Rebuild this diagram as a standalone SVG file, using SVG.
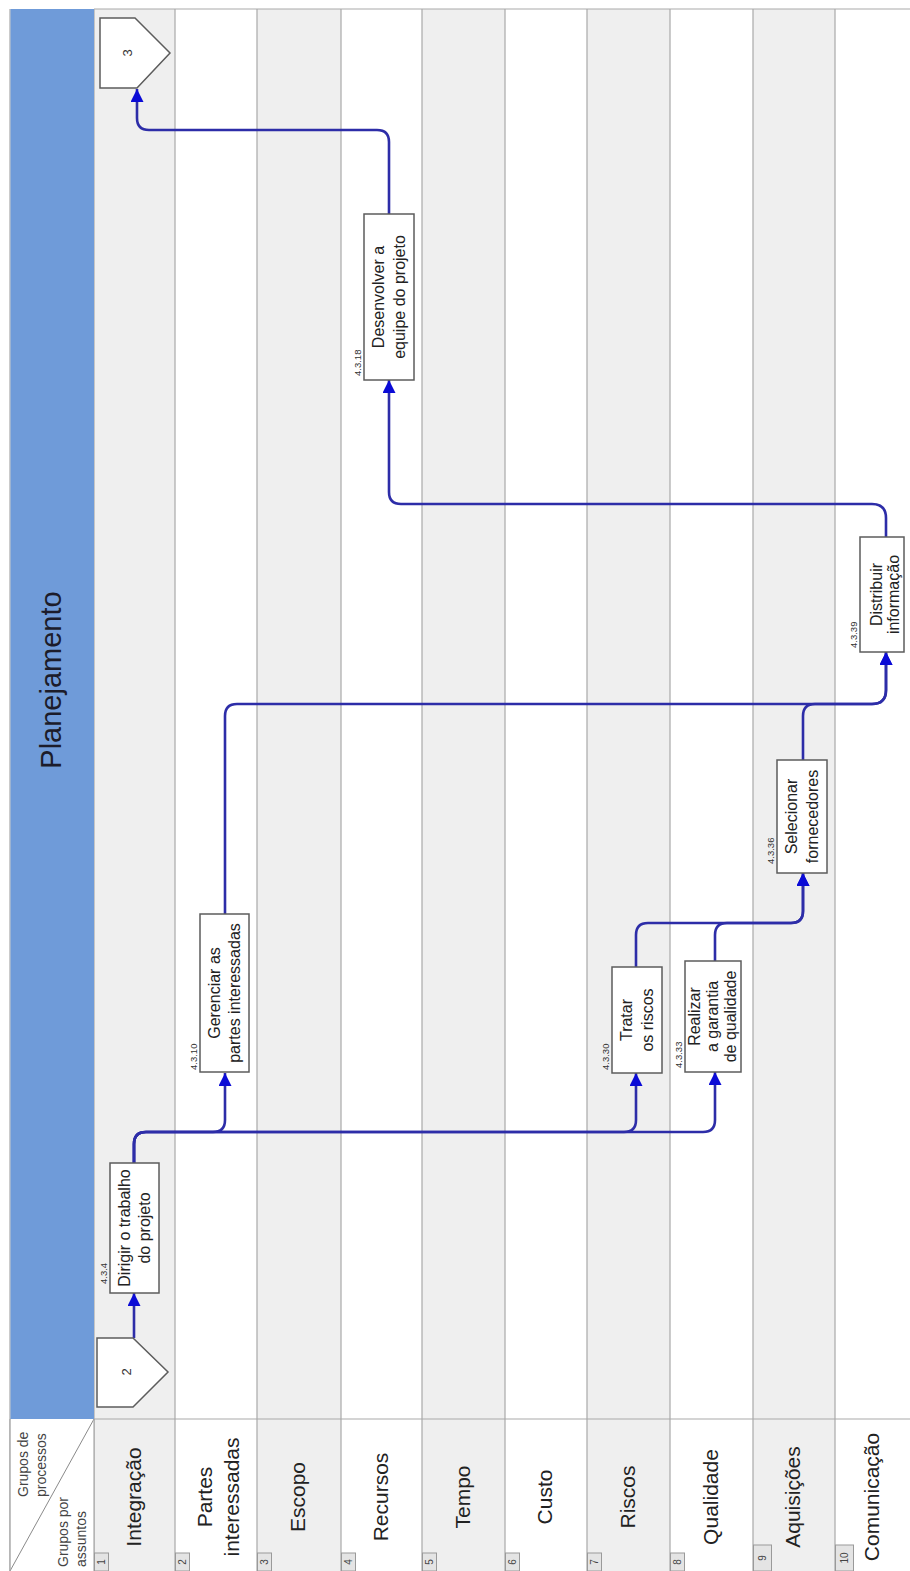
<svg xmlns="http://www.w3.org/2000/svg" width="910" height="1571" viewBox="0 0 910 1571">
  <defs>
    <style>
      .lane-gray { fill: #efefef; }
      .lane-white { fill: #ffffff; }
      .divider { stroke: #a9a9a9; stroke-width: 1.2; fill: none; }
      .box { fill: #ffffff; stroke: #5c5c5c; stroke-width: 1.5; }
      .tag { fill: #e4e4e4; stroke: #9a9a9a; stroke-width: 1; }
      .lane-label { font-family: "Liberation Sans", Arial, sans-serif; font-size: 21px; fill: #222; text-anchor: middle; }
      .tag-text { font-family: "Liberation Sans", Arial, sans-serif; font-size: 10px; fill: #444; text-anchor: middle; }
      .box-text { font-family: "Liberation Sans", Arial, sans-serif; font-size: 16px; fill: #222; text-anchor: middle; }
      .code { font-family: "Liberation Sans", Arial, sans-serif; font-size: 9.5px; fill: #333; text-anchor: start; }
      .corner { font-family: "Liberation Sans", Arial, sans-serif; font-size: 14px; fill: #444; text-anchor: start; }
      .flow { fill: none; stroke: #2d2da8; stroke-width: 2.6; stroke-linejoin: round; }
    </style>
    <marker id="arrow" markerUnits="userSpaceOnUse" markerWidth="13" markerHeight="13" refX="13" refY="6.5" orient="auto">
      <path d="M0,0 L13,6.5 L0,13 Z" fill="#0b0bd6"/>
    </marker>
  </defs>

  <rect x="0" y="0" width="910" height="1571" fill="#ffffff"/>

  <!-- swimlanes (columns) -->
  <g id="lanes">
    <rect class="lane-gray" x="94" y="9" width="81" height="1562"/>
    <rect class="lane-white" x="175" y="9" width="82" height="1562"/>
    <rect class="lane-gray" x="257" y="9" width="84" height="1562"/>
    <rect class="lane-white" x="341" y="9" width="81" height="1562"/>
    <rect class="lane-gray" x="422" y="9" width="83" height="1562"/>
    <rect class="lane-white" x="505" y="9" width="82" height="1562"/>
    <rect class="lane-gray" x="587" y="9" width="83" height="1562"/>
    <rect class="lane-white" x="670" y="9" width="83" height="1562"/>
    <rect class="lane-gray" x="753" y="9" width="82" height="1562"/>
    <rect class="lane-white" x="835" y="9" width="75" height="1562"/>

    <path class="divider" d="M94,9 H910 M10,1419 H910 M10,9 V1571 M94,9 V1571 M175,9 V1571 M257,9 V1571 M341,9 V1571 M422,9 V1571 M505,9 V1571 M587,9 V1571 M670,9 V1571 M753,9 V1571 M835,9 V1571"/>
  </g>

  <!-- phase header -->
  <g id="header">
    <rect x="10.5" y="9" width="83.5" height="1410" fill="#6f9bd9"/>
    <text transform="translate(61,680) rotate(-90)" font-family="'Liberation Sans', Arial, sans-serif" font-size="29" fill="#1c1c2a" text-anchor="middle">Planejamento</text>
  </g>

  <!-- corner cell -->
  <g id="corner">
    <rect x="10.5" y="1419" width="83.5" height="152" fill="#ffffff"/>
    <path d="M10,1571 L94,1419" stroke="#8a8a8a" stroke-width="1" fill="none"/>
    <path class="divider" d="M10,1419 V1571 M94,1419 V1571"/>
    <text class="corner" transform="translate(0,1497) rotate(-90)"><tspan x="0" y="28">Grupos de</tspan><tspan x="0" y="46">processos</tspan></text>
    <text class="corner" transform="translate(0,1567) rotate(-90)"><tspan x="0" y="68">Grupos por</tspan><tspan x="0" y="86">assuntos</tspan></text>
  </g>

  <!-- lane labels -->
  <g id="lane-labels">
    <text class="lane-label" transform="translate(134.5,1497) rotate(-90)" y="6">Integração</text>
    <text class="lane-label" transform="translate(216,1497) rotate(-90)"><tspan x="0" y="-4">Partes</tspan><tspan x="0" y="23">interessadas</tspan></text>
    <text class="lane-label" transform="translate(299,1497) rotate(-90)" y="6">Escopo</text>
    <text class="lane-label" transform="translate(381.5,1497) rotate(-90)" y="6">Recursos</text>
    <text class="lane-label" transform="translate(463.5,1497) rotate(-90)" y="6">Tempo</text>
    <text class="lane-label" transform="translate(546,1497) rotate(-90)" y="6">Custo</text>
    <text class="lane-label" transform="translate(628.5,1497) rotate(-90)" y="6">Riscos</text>
    <text class="lane-label" transform="translate(711.5,1497) rotate(-90)" y="6">Qualidade</text>
    <text class="lane-label" transform="translate(794,1497) rotate(-90)" y="6">Aquisições</text>
    <text class="lane-label" transform="translate(872.5,1497) rotate(-90)" y="6">Comunicação</text>
  </g>

  <!-- lane numbers -->
  <g id="lane-numbers">
    <rect class="tag" x="94.5" y="1553" width="14" height="18"/>
    <text class="tag-text" transform="translate(105,1562) rotate(-90)">1</text>
    <rect class="tag" x="175.5" y="1553" width="14" height="18"/>
    <text class="tag-text" transform="translate(186,1562) rotate(-90)">2</text>
    <rect class="tag" x="257.5" y="1553" width="14" height="18"/>
    <text class="tag-text" transform="translate(268,1562) rotate(-90)">3</text>
    <rect class="tag" x="341.5" y="1553" width="14" height="18"/>
    <text class="tag-text" transform="translate(352,1562) rotate(-90)">4</text>
    <rect class="tag" x="422.5" y="1553" width="14" height="18"/>
    <text class="tag-text" transform="translate(433,1562) rotate(-90)">5</text>
    <rect class="tag" x="505.5" y="1553" width="14" height="18"/>
    <text class="tag-text" transform="translate(516,1562) rotate(-90)">6</text>
    <rect class="tag" x="587.5" y="1553" width="14" height="18"/>
    <text class="tag-text" transform="translate(598,1562) rotate(-90)">7</text>
    <rect class="tag" x="670.5" y="1553" width="14" height="18"/>
    <text class="tag-text" transform="translate(681,1562) rotate(-90)">8</text>
    <rect class="tag" x="753.5" y="1545" width="18" height="26"/>
    <text class="tag-text" transform="translate(766,1558) rotate(-90)">9</text>
    <rect class="tag" x="835.5" y="1545" width="18" height="26"/>
    <text class="tag-text" transform="translate(848,1558) rotate(-90)">10</text>
  </g>

  <!-- connectors -->
  <g id="connectors">
    <path class="flow" d="M134,1338 L134,1293" marker-end="url(#arrow)"/>
    <path class="flow" d="M134,1163 L134,1144 Q134,1132 146,1132 L213,1132 Q225,1132 225,1120 L225,1073" marker-end="url(#arrow)"/>
    <path class="flow" d="M134,1163 L134,1144 Q134,1132 146,1132 L624,1132 Q636,1132 636,1120 L636,1073" marker-end="url(#arrow)"/>
    <path class="flow" d="M134,1163 L134,1144 Q134,1132 146,1132 L703,1132 Q715,1132 715,1120 L715,1072" marker-end="url(#arrow)"/>
    <path class="flow" d="M636,967 L636,935 Q636,923 648,923 L791,923 Q803,923 803,911 L803,873" marker-end="url(#arrow)"/>
    <path class="flow" d="M715,961 L715,935 Q715,923 727,923 L791,923 Q803,923 803,911 L803,873" marker-end="url(#arrow)"/>
    <path class="flow" d="M225,914 L225,716 Q225,704 237,704 L872,704 Q886,704 886,690 L886,652" marker-end="url(#arrow)"/>
    <path class="flow" d="M803,760 L803,716 Q803,704 815,704 L872,704 Q886,704 886,690 L886,652" marker-end="url(#arrow)"/>
    <path class="flow" d="M886,537 L886,518 Q886,504 872,504 L401,504 Q389,504 389,492 L389,380" marker-end="url(#arrow)"/>
    <path class="flow" d="M389,214 L389,142 Q389,130 377,130 L149,130 Q137,130 137,118 L137,89" marker-end="url(#arrow)"/>
  </g>

  <!-- off-page connectors -->
  <g id="ref-2">
    <path class="box" d="M97,1338 L133,1338 L168,1372 L133,1407 L97,1407 Z"/>
    <text transform="translate(131,1372) rotate(-90)" font-family="'Liberation Sans', Arial, sans-serif" font-size="13" fill="#333" text-anchor="middle">2</text>
  </g>
  <g id="ref-3">
    <path class="box" d="M100,18 L135,18 L170,53 L137,88 L100,88 Z"/>
    <text transform="translate(132,53) rotate(-90)" font-family="'Liberation Sans', Arial, sans-serif" font-size="13" fill="#333" text-anchor="middle">3</text>
  </g>

  <!-- process nodes -->
  <g id="node-4-3-4">
    <rect class="box" x="110" y="1163" width="49" height="130"/>
    <text class="code" transform="translate(107,1284) rotate(-90)">4.3.4</text>
    <text class="box-text" transform="translate(134.5,1228) rotate(-90)"><tspan x="0" y="-5">Dirigir o trabalho</tspan><tspan x="0" y="15.5">do projeto</tspan></text>
  </g>

  <g id="node-4-3-10">
    <rect class="box" x="200" y="914" width="49" height="158"/>
    <text class="code" transform="translate(197,1070) rotate(-90)">4.3.10</text>
    <text class="box-text" transform="translate(224.5,993) rotate(-90)"><tspan x="0" y="-5">Gerenciar as</tspan><tspan x="0" y="15.5">partes interessadas</tspan></text>
  </g>

  <g id="node-4-3-30">
    <rect class="box" x="612" y="967" width="50" height="106"/>
    <text class="code" transform="translate(609,1070) rotate(-90)">4.3.30</text>
    <text class="box-text" transform="translate(637,1020) rotate(-90)"><tspan x="0" y="-5">Tratar</tspan><tspan x="0" y="15.5">os riscos</tspan></text>
  </g>

  <g id="node-4-3-33">
    <rect class="box" x="685" y="961" width="56" height="111"/>
    <text class="code" transform="translate(682,1068) rotate(-90)">4.3.33</text>
    <text class="box-text" transform="translate(713,1016.5) rotate(-90)"><tspan x="0" y="-13">Realizar</tspan><tspan x="0" y="5">a garantia</tspan><tspan x="0" y="23">de qualidade</tspan></text>
  </g>

  <g id="node-4-3-36">
    <rect class="box" x="777" y="760" width="50" height="113"/>
    <text class="code" transform="translate(774,864) rotate(-90)">4.3.36</text>
    <text class="box-text" transform="translate(802,816.5) rotate(-90)"><tspan x="0" y="-5">Selecionar</tspan><tspan x="0" y="15.5">fornecedores</tspan></text>
  </g>

  <g id="node-4-3-39">
    <rect class="box" x="860" y="537" width="44" height="115"/>
    <text class="code" transform="translate(857,648) rotate(-90)">4.3.39</text>
    <text class="box-text" transform="translate(882,594.5) rotate(-90)"><tspan x="0" y="0">Distribuir</tspan><tspan x="0" y="17">informação</tspan></text>
  </g>

  <g id="node-4-3-18">
    <rect class="box" x="364" y="214" width="50" height="166"/>
    <text class="code" transform="translate(361,376) rotate(-90)">4.3.18</text>
    <text class="box-text" transform="translate(389,297) rotate(-90)"><tspan x="0" y="-5">Desenvolver a</tspan><tspan x="0" y="15.5">equipe do projeto</tspan></text>
  </g>
</svg>
